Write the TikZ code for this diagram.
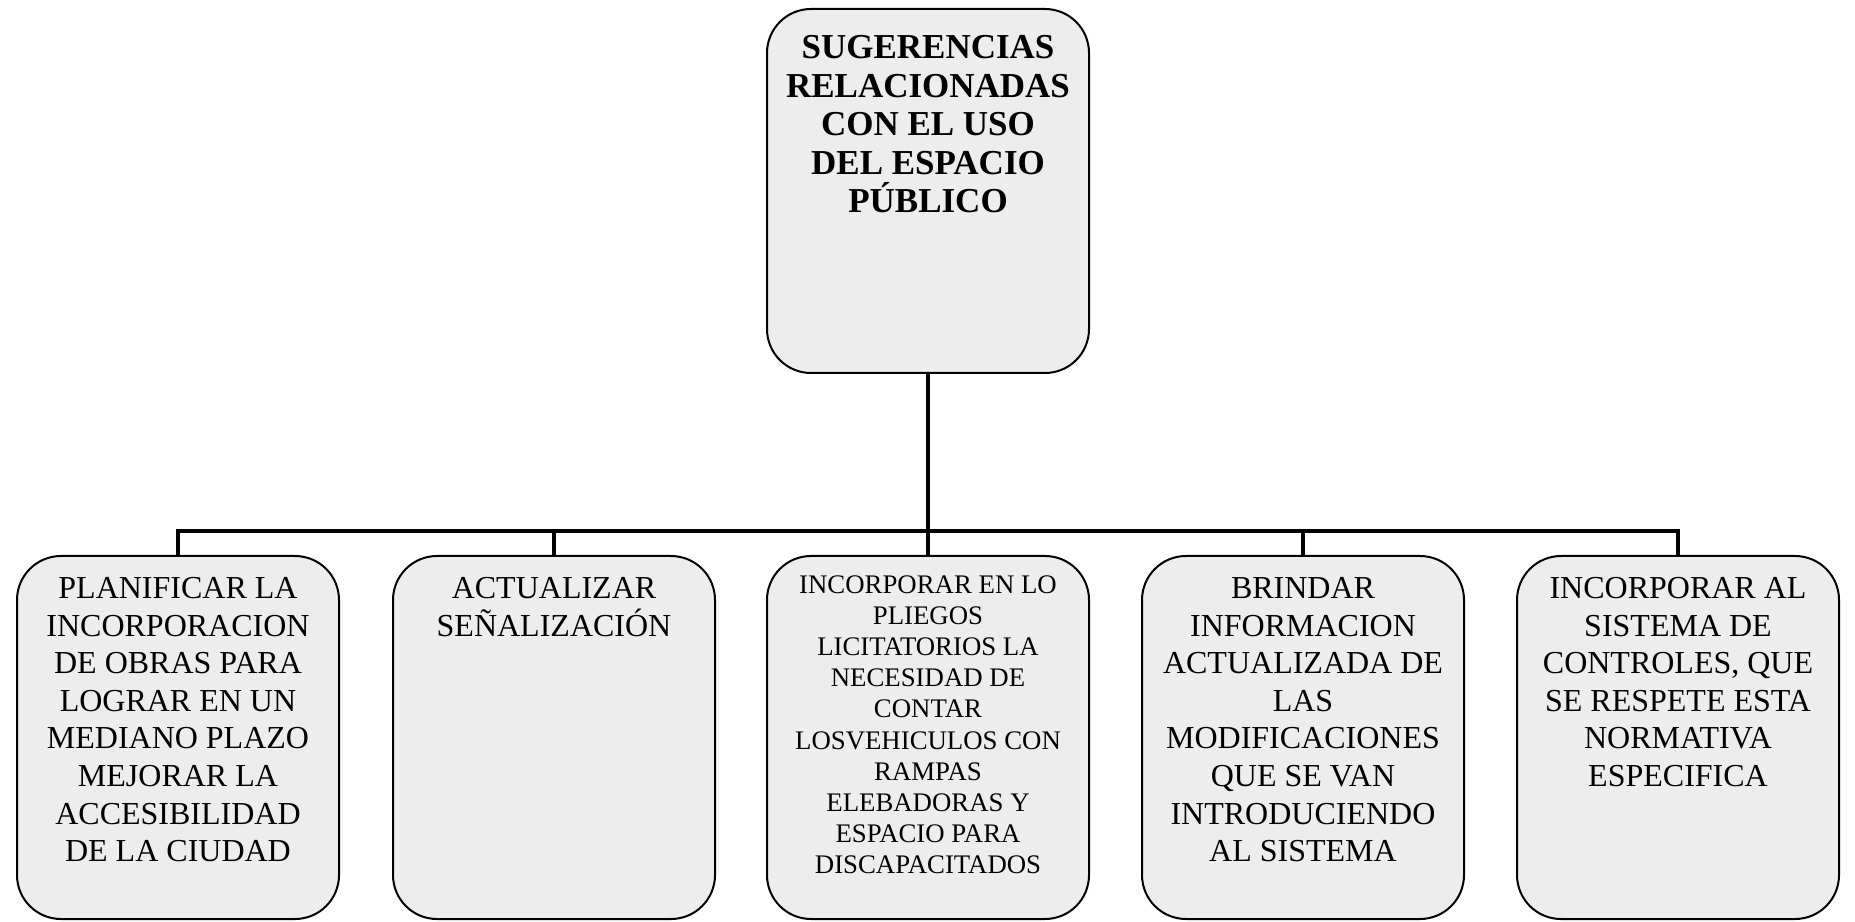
\documentclass[tikz,border=0pt]{standalone}
\usepackage{fontspec}
\setmainfont{Liberation Serif}
\usetikzlibrary{positioning}

\begin{document}
\begin{tikzpicture}[
  x=0.5pt, y=0.5pt,
  every node/.style={inner sep=0pt},
  sugbox/.style={rectangle, rounded corners=22pt, draw=black, line width=1pt, fill=black!7, minimum width=161pt, minimum height=182pt},
  optbox/.style={rectangle, rounded corners=22pt, draw=black, line width=1pt, fill=black!7, minimum width=161pt, minimum height=181.5pt},
  sugtxt/.style={align=center, font=\fontsize{17.5}{19.3}\selectfont\bfseries},
  opttxt/.style={align=center, font=\fontsize{16}{18.8}\selectfont},
  smalltxt/.style={align=center, font=\fontsize{13.4}{15.6}\selectfont},
  link/.style={line width=1.6pt},
]
\useasboundingbox (0,0) rectangle (1855,921);

% boxes
\node[sugbox] (sug) at (928,730) {};
\node[optbox] (plan) at (178,183.5) {};
\node[optbox] (senal) at (554,183.5) {};
\node[optbox] (pliego) at (928,183.5) {};
\node[optbox] (info) at (1303,183.5) {};
\node[optbox] (ctrl) at (1678,183.5) {};

% texts
\node[sugtxt, below=13.5pt of sug.north] (sugt) {SUGERENCIAS\\RELACIONADAS\\CON EL USO\\DEL ESPACIO\\PÚBLICO};
\node[opttxt, below=11pt of plan.north] (plant) {PLANIFICAR LA\\INCORPORACION\\DE OBRAS PARA\\LOGRAR EN UN\\MEDIANO PLAZO\\MEJORAR LA\\ACCESIBILIDAD\\DE LA CIUDAD};
\node[opttxt, below=11pt of senal.north] (senalt) {ACTUALIZAR\\SEÑALIZACIÓN};
\node[smalltxt, below=10pt of pliego.north] (pliegot) {INCORPORAR EN LO\\PLIEGOS\\LICITATORIOS LA\\NECESIDAD DE\\CONTAR\\LOSVEHICULOS CON\\RAMPAS\\ELEBADORAS Y\\ESPACIO PARA\\DISCAPACITADOS};
\node[opttxt, below=11pt of info.north] (infot) {BRINDAR\\INFORMACION\\ACTUALIZADA DE\\LAS\\MODIFICACIONES\\QUE SE VAN\\INTRODUCIENDO\\AL SISTEMA};
\node[opttxt, below=11pt of ctrl.north] (ctrlt) {INCORPORAR AL\\SISTEMA DE\\CONTROLES, QUE\\SE RESPETE ESTA\\NORMATIVA\\ESPECIFICA};

% connectors
\coordinate (hub) at (928,390);
\draw[link] (sug) -- (hub);
\draw[link] (plan.north) |- (hub) -| (ctrl.north);
\foreach \b in {senal,pliego,info}
  \draw[link] (\b.north) -- (\b.north |- hub);
\end{tikzpicture}
\end{document}
